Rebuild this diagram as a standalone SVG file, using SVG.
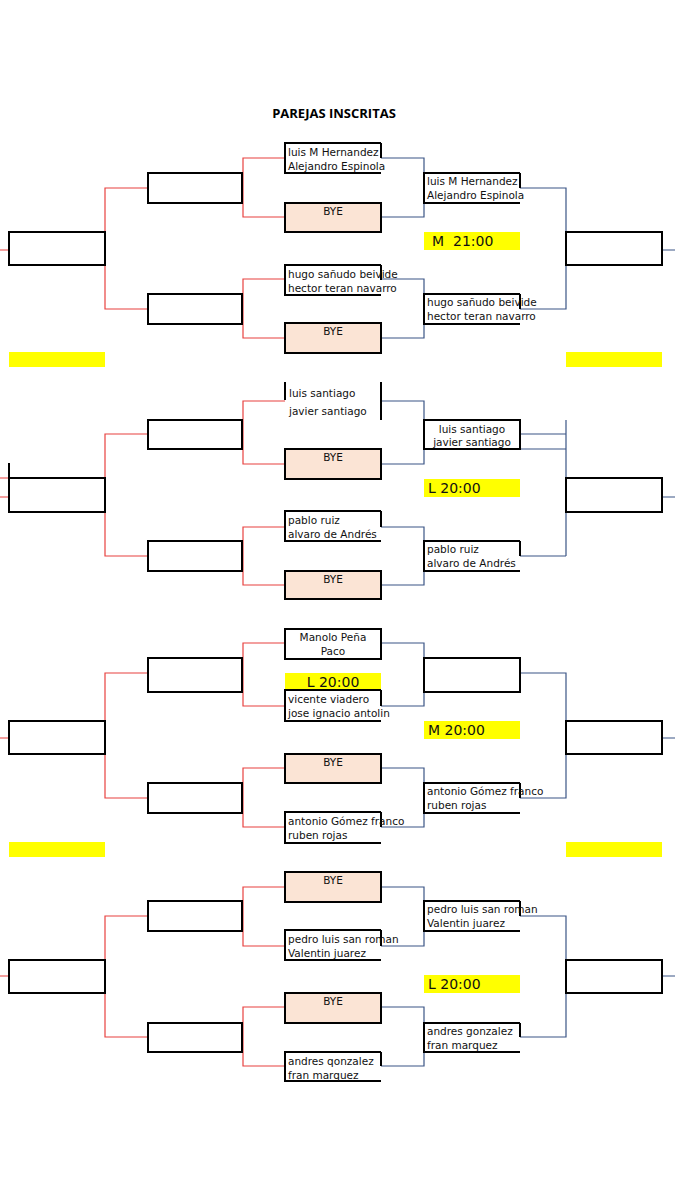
<svg xmlns="http://www.w3.org/2000/svg" width="675" height="1200" viewBox="0 0 675 1200">
<style>
.b{fill:#fff;stroke:#000;stroke-width:2}
.bye{fill:#fbe4d5;stroke:#000;stroke-width:2}
.nb{fill:none;stroke:#000;stroke-width:2}
.r{fill:none;stroke:#e8413f;stroke-width:1.2}
.u{fill:none;stroke:#3b5585;stroke-width:1.2}
.t{font-family:"DejaVu Sans",sans-serif;font-size:10.5px;fill:#111}
.c{text-anchor:middle}
.y{fill:#ffff00}
.lt{font-family:"DejaVu Sans",sans-serif;font-size:14px;fill:#111}
</style>
<rect width="675" height="1200" fill="#fff"/>
<text x="334" y="118" text-anchor="middle" font-family="'Open Sans',sans-serif" font-weight="bold" font-size="13">PAREJAS INSCRITAS</text>
<g id="connectors">
<path class="r" d="M0,250H9M148,188H105V309H148M285,158H243V217H285M285,279H243V338H285"/>
<path class="u" d="M381,158H424V217H381M381,279H424V338H381M520,188H566V309H520M662,250H675"/>
<path class="r" d="M0,478H9M0,497H9M148,434H105V556H148M285,401H243V464H285M285,527H243V585H285"/>
<path class="u" d="M381,401H424V464H381M381,527H424V585H381M520,434H566M520,449H566M566,420V556M520,556H566M662,497H675"/>
<path class="r" d="M0,738H9M148,673H105V798H148M285,643H243V706H285M285,768H243V827H285"/>
<path class="u" d="M381,643H424V706H381M381,768H424V827H381M520,673H566V798H520M662,738H675"/>
<path class="r" d="M0,976H9M148,916H105V1037H148M285,887H243V946H285M285,1007H243V1066H285"/>
<path class="u" d="M381,887H424V946H381M381,1007H424V1066H381M520,916H566V1037H520M662,976H675"/>
</g>
<!-- Section 1 -->
<g id="s1-a"><rect class="b" x="9" y="232" width="96" height="33"/></g>
<g id="s1-b1"><rect class="b" x="148" y="173" width="94" height="30"/></g>
<g id="s1-b2"><rect class="b" x="148" y="294" width="94" height="30"/></g>
<g id="s1-c1"><path class="nb" d="M381,143H285V173H381M381,143V158"/><text class="t" x="288" y="156">luis M Hernandez</text><text class="t" x="288" y="170">Alejandro Espinola</text></g>
<g id="s1-c2"><rect class="bye" x="285" y="203" width="96" height="29"/><text class="t c" x="333" y="215">BYE</text></g>
<g id="s1-c3"><path class="nb" d="M381,265H285V295H381M381,265V280"/><text class="t" x="288" y="278">hugo sañudo beivide</text><text class="t" x="288" y="292">hector teran navarro</text></g>
<g id="s1-c4"><rect class="bye" x="285" y="323" width="96" height="30"/><text class="t c" x="333" y="335">BYE</text></g>
<g id="s1-d1"><path class="nb" d="M520,173H424V203H520M520,173V188"/><text class="t" x="427" y="185">luis M Hernandez</text><text class="t" x="427" y="199">Alejandro Espinola</text></g>
<g id="s1-d2"><path class="nb" d="M520,294H424V324H520M520,294V309"/><text class="t" x="427" y="306">hugo sañudo beivide</text><text class="t" x="427" y="320">hector teran navarro</text></g>
<g id="s1-e"><rect class="b" x="566" y="232" width="96" height="33"/></g>
<g id="s1-label"><rect class="y" x="424" y="232" width="96" height="18"/><text class="lt" x="432" y="246" xml:space="preserve">M  21:00</text></g>
<g id="s1-bars"><rect class="y" x="9" y="352" width="96" height="15"/><rect class="y" x="566" y="352" width="96" height="15"/></g>
<!-- Section 2 -->
<g id="s2-a"><rect class="b" x="9" y="478" width="96" height="34"/><path class="nb" d="M9,463V478" stroke-width="1.5"/></g>
<g id="s2-b1"><rect class="b" x="148" y="420" width="94" height="29"/></g>
<g id="s2-b2"><rect class="b" x="148" y="541" width="94" height="30"/></g>
<g id="s2-c1"><path class="nb" d="M285,382V400M381,382V420" stroke-width="1.5"/><text class="t" x="289" y="397" font-size="12.5">luis santiago</text><text class="t" x="289" y="415" font-size="12.5">javier santiago</text></g>
<g id="s2-c2"><rect class="bye" x="285" y="449" width="96" height="30"/><text class="t c" x="333" y="461">BYE</text></g>
<g id="s2-c3"><path class="nb" d="M381,511H285V541H381M381,511V527"/><text class="t" x="288" y="524">pablo ruiz</text><text class="t" x="288" y="538">alvaro de Andrés</text></g>
<g id="s2-c4"><rect class="bye" x="285" y="571" width="96" height="28"/><text class="t c" x="333" y="583">BYE</text></g>
<g id="s2-d1"><rect class="b" x="424" y="420" width="96" height="29"/><text class="t c" x="472" y="433">luis santiago</text><text class="t c" x="472" y="446">javier santiago</text></g>
<g id="s2-d2"><path class="nb" d="M520,541H424V571H520M520,541V556"/><text class="t" x="427" y="553">pablo ruiz</text><text class="t" x="427" y="567">alvaro de Andrés</text></g>
<g id="s2-e"><rect class="b" x="566" y="478" width="96" height="34"/></g>
<g id="s2-label"><rect class="y" x="424" y="479" width="96" height="18"/><text class="lt" x="428" y="493">L 20:00</text></g>
<!-- Section 3 -->
<g id="s3-a"><rect class="b" x="9" y="721" width="96" height="33"/></g>
<g id="s3-b1"><rect class="b" x="148" y="658" width="94" height="34"/></g>
<g id="s3-b2"><rect class="b" x="148" y="783" width="94" height="30"/></g>
<g id="s3-c1"><rect class="b" x="285" y="629" width="96" height="30"/><text class="t c" x="333" y="641">Manolo Peña</text><text class="t c" x="333" y="655">Paco</text></g>
<g id="s3-label1"><rect class="y" x="285" y="673" width="96" height="17"/><text class="lt c" x="333" y="687">L 20:00</text></g>
<g id="s3-c2"><path class="nb" d="M381,690H285V721H381M381,690V706"/><text class="t" x="288" y="703">vicente viadero</text><text class="t" x="288" y="717">jose ignacio antolin</text></g>
<g id="s3-c3"><rect class="bye" x="285" y="754" width="96" height="29"/><text class="t c" x="333" y="766">BYE</text></g>
<g id="s3-c4"><path class="nb" d="M381,812H285V843H381M381,812V827"/><text class="t" x="288" y="825">antonio Gómez franco</text><text class="t" x="288" y="839">ruben rojas</text></g>
<g id="s3-d1"><rect class="b" x="424" y="658" width="96" height="34"/></g>
<g id="s3-d2"><path class="nb" d="M520,783H424V813H520M520,783V798"/><text class="t" x="427" y="795">antonio Gómez franco</text><text class="t" x="427" y="809">ruben rojas</text></g>
<g id="s3-e"><rect class="b" x="566" y="721" width="96" height="33"/></g>
<g id="s3-label2"><rect class="y" x="424" y="721" width="96" height="18"/><text class="lt" x="428" y="735">M 20:00</text></g>
<g id="s3-bars"><rect class="y" x="9" y="842" width="96" height="15"/><rect class="y" x="566" y="842" width="96" height="15"/></g>
<!-- Section 4 -->
<g id="s4-a"><rect class="b" x="9" y="960" width="96" height="33"/></g>
<g id="s4-b1"><rect class="b" x="148" y="901" width="94" height="30"/></g>
<g id="s4-b2"><rect class="b" x="148" y="1023" width="94" height="29"/></g>
<g id="s4-c1"><rect class="bye" x="285" y="872" width="96" height="30"/><text class="t c" x="333" y="884">BYE</text></g>
<g id="s4-c2"><path class="nb" d="M381,930H285V960H381M381,930V946"/><text class="t" x="288" y="943">pedro luis san roman</text><text class="t" x="288" y="957">Valentin juarez</text></g>
<g id="s4-c3"><rect class="bye" x="285" y="993" width="96" height="30"/><text class="t c" x="333" y="1005">BYE</text></g>
<g id="s4-c4"><path class="nb" d="M381,1052H285V1081H381M381,1052V1066"/><text class="t" x="288" y="1065">andres qonzalez</text><text class="t" x="288" y="1079">fran marquez</text></g>
<g id="s4-d1"><path class="nb" d="M520,901H424V931H520M520,901V916"/><text class="t" x="427" y="913">pedro luis san roman</text><text class="t" x="427" y="927">Valentin juarez</text></g>
<g id="s4-d2"><path class="nb" d="M520,1023H424V1052H520M520,1023V1037"/><text class="t" x="427" y="1035">andres gonzalez</text><text class="t" x="427" y="1049">fran marquez</text></g>
<g id="s4-e"><rect class="b" x="566" y="960" width="96" height="33"/></g>
<g id="s4-label"><rect class="y" x="424" y="975" width="96" height="18"/><text class="lt" x="428" y="989">L 20:00</text></g>
</svg>
